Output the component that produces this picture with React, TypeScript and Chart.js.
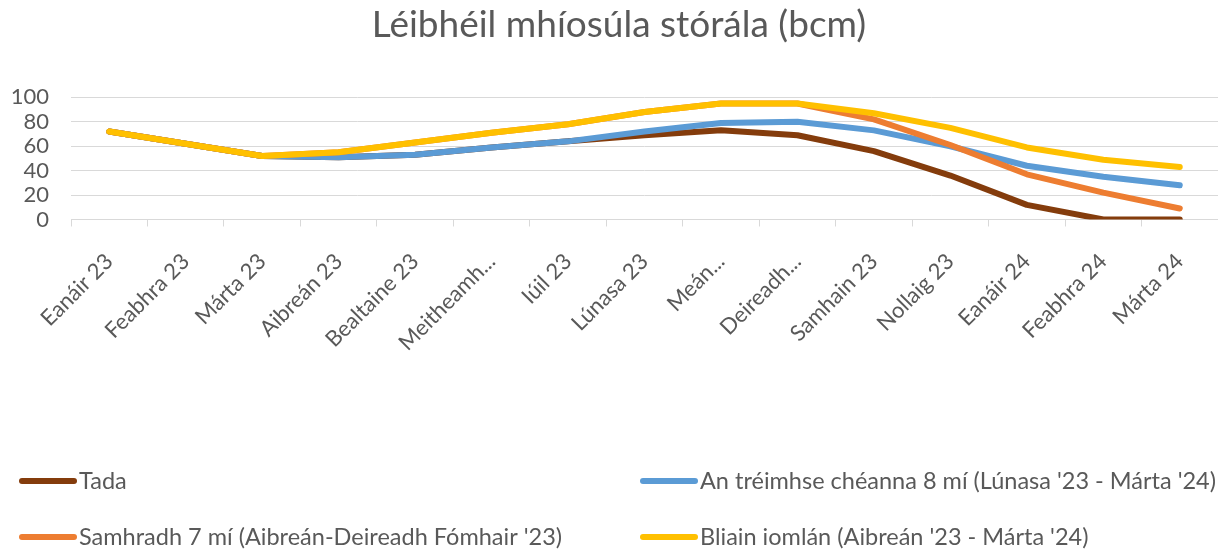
import React, { useEffect, useRef } from "react";
import { Chart, registerables } from "chart.js";

Chart.register(...registerables);

const categories = [
  "Eanáir 23",
  "Feabhra 23",
  "Márta 23",
  "Aibreán 23",
  "Bealtaine 23",
  "Meitheamh...",
  "Iúil 23",
  "Lúnasa 23",
  "Meán...",
  "Deireadh...",
  "Samhain 23",
  "Nollaig 23",
  "Eanáir 24",
  "Feabhra 24",
  "Márta 24",
];

const tada = [72, 62, 52, 51, 53, 59, 64, 69, 73, 69, 56, 36, 12, 0, 0];
const anTreimhse = [72, 62, 52, 51, 53, 59, 64, 72, 79, 80, 73, 60, 44, 35, 28];
const samhradh = [72, 62, 52, 55, 63, 71, 78, 88, 95, 95, 82, 61, 37, 22, 9];
const bliain = [72, 62, 52, 55, 63, 71, 78, 88, 95, 95, 87, 75, 59, 49, 43];

const seriesNames = [
  "Tada",
  "An tréimhse chéanna 8 mí (Lúnasa '23 - Márta '24)",
  "Samhradh 7 mí (Aibreán-Deireadh Fómhair '23)",
  "Bliain iomlán (Aibreán '23 - Márta '24)",
];
const seriesColors = ["#843C0C", "#5B9BD5", "#ED7D31", "#FFC000"];

const yTicks = [0, 20, 40, 60, 80, 100];

const FONT = "Lato, 'Open Sans', sans-serif";
const TEXT = "#595959";

const legendPlugin = {
  id: "gridLegend",
  afterLayout(chart: any) {
    // let the y tick labels use the space left of the axis box
    chart.scales.y.left = 0;
  },
  afterDraw(chart: any) {
    const ctx = chart.ctx;
    const cols = [19, 640];
    const rows = [481, 537];
    ctx.save();
    chart.data.datasets.forEach((ds: any, i: number) => {
      const x = cols[i % 2];
      const y = rows[Math.floor(i / 2)];
      ctx.strokeStyle = ds.borderColor;
      ctx.lineWidth = 6;
      ctx.lineCap = "round";
      ctx.beginPath();
      ctx.moveTo(x + 3, y);
      ctx.lineTo(x + 55, y);
      ctx.stroke();
      ctx.fillStyle = TEXT;
      ctx.font = `23.5px ${FONT}`;
      ctx.textBaseline = "middle";
      ctx.textAlign = "left";
      ctx.fillText(ds.label, x + 60, y);
    });
    ctx.restore();
  },
};

export default function App() {
  const ref = useRef<HTMLCanvasElement | null>(null);

  useEffect(() => {
    document.body.style.margin = "0";
    if (!ref.current) return;
    const series = [tada, anTreimhse, samhradh, bliain];
    const chart = new Chart(ref.current, {
      type: "line",
      data: {
        labels: categories,
        datasets: series.map((d, i) => ({
          label: seriesNames[i],
          data: d,
          borderColor: seriesColors[i],
          backgroundColor: seriesColors[i],
          borderWidth: 6,
          pointRadius: 0,
          tension: 0,
          borderCapStyle: "round" as const,
          borderJoinStyle: "round" as const,
          order: 3 - i,
        })),
      },
      options: {
        animation: false,
        responsive: false,
        maintainAspectRatio: false,
        layout: { padding: { left: 20, right: 0, top: 0, bottom: 176 } },
        plugins: {
          legend: { display: false },
          tooltip: { enabled: false },
          title: {
            display: true,
            text: "Léibhéil mhíosúla stórála (bcm)",
            color: TEXT,
            font: { family: FONT, size: 37, weight: "normal" },
            padding: { top: 3, bottom: 50 },
          },
        },
        scales: {
          x: {
            offset: true,
            afterFit: (scale: any) => {
              scale.paddingLeft = 0;
              scale.paddingRight = 0;
            },
            grid: {
              offset: true,
              drawOnChartArea: false,
              drawTicks: true,
              tickLength: 7,
              color: "#d9d9d9",
            },
            border: { color: "#d9d9d9" },
            ticks: {
              autoSkip: false,
              maxRotation: 45,
              minRotation: 45,
              padding: 22,
              color: TEXT,
              font: { family: FONT, size: 22 },
            },
          },
          y: {
            min: 0,
            max: 100,
            afterBuildTicks: (axis: any) => {
              axis.ticks = yTicks.map((v) => ({ value: v }));
            },
            afterFit: (scale: any) => {
              scale.width = 51;
            },
            ticks: {
              autoSkip: false,
              color: TEXT,
              font: { family: FONT, size: 22 },
              padding: 22,
            },
            grid: { color: "#d9d9d9", drawTicks: false },
            border: { display: false },
          },
        },
      },
      plugins: [legendPlugin],
    });
    return () => chart.destroy();
  }, []);

  return (
    <div style={{ width: 1218, height: 554, background: "#fff" }}>
      <canvas ref={ref} width={1218} height={554} />
    </div>
  );
}
